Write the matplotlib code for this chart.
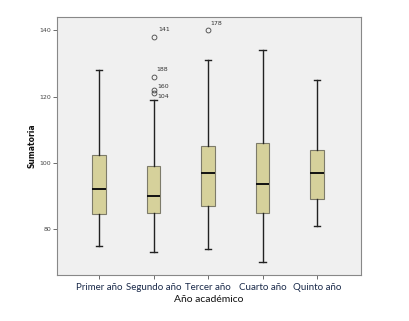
import matplotlib
matplotlib.use("Agg")
import matplotlib.pyplot as plt

categories = ["Primer año", "Segundo año", "Tercer año", "Cuarto año", "Quinto año"]
whislo = [75, 73, 74, 70, 81]
q1 = [84.5, 85, 87, 85, 89]
med = [92, 90, 97, 93.5, 97]
q3 = [102.5, 99, 105, 106, 104]
whishi = [128, 119, 131, 134, 125]
outliers = [[], [138, 126, 122, 121], [140], [], []]
outlier_labels = [[], ["141", "188", "160", "104"], ["178"], [], []]
yticks = [80, 100, 120, 140]

stats = []
for i in range(len(categories)):
    stats.append(dict(label=categories[i], whislo=whislo[i], q1=q1[i], med=med[i],
                      q3=q3[i], whishi=whishi[i], fliers=outliers[i]))

fig = plt.figure(figsize=(4.10, 3.21), dpi=100)
ax = fig.add_axes([0.139, 0.1433, 0.741, 0.804])
ax.set_facecolor("#f0f0f0")

positions = list(range(1, len(categories) + 1))
ax.bxp(stats, positions=positions, widths=0.25, patch_artist=True,
       boxprops=dict(facecolor="#d6d19b", edgecolor="#7d7b6a", linewidth=0.8),
       medianprops=dict(color="#111111", linewidth=1.4),
       whiskerprops=dict(color="#222222", linewidth=1.0),
       capprops=dict(color="#222222", linewidth=1.0),
       capwidths=0.12,
       flierprops=dict(marker="o", markersize=3.5, markerfacecolor="none",
                       markeredgecolor="#444444", markeredgewidth=0.6))

# label offsets in pixels (dx, dy) relative to the outlier point
label_offsets = {"141": (5, 7), "188": (3, 7.5), "160": (4, 3.5), "104": (4, -3.5), "178": (2, 7)}
for i, (vals, labs) in enumerate(zip(outliers, outlier_labels)):
    for v, lab in zip(vals, labs):
        dx, dy = label_offsets[lab]
        ax.annotate(lab, xy=(positions[i], v), xytext=(dx, dy), textcoords="offset pixels",
                    fontsize=4.5, color="#333333", ha="left", va="center")

ax.set_xlim(0.23, 5.8)
ax.set_ylim(66.2, 144)
ax.set_yticks(yticks)
ax.set_yticklabels([str(t) for t in yticks], fontsize=4.5, color="#444444")
ax.set_xticks(positions)
ax.set_xticklabels(categories, fontsize=7, color="#1a2a4a", family="Lato")
ax.tick_params(axis="both", direction="out", length=3, width=0.6, colors="#555555")
ax.tick_params(axis="x", labelcolor="#1a2a4a", pad=3)
ax.tick_params(axis="y", labelcolor="#444444", pad=1)
for s in ax.spines.values():
    s.set_color("#888888")
    s.set_linewidth(0.8)

ax.set_xlabel("Año académico", fontsize=7.5, family="Lato", color="#111111", labelpad=2)
ax.set_ylabel("Sumatoria", fontsize=5.5, fontweight="bold", color="#111111", labelpad=2)

fig.savefig("out.png", dpi=100)
